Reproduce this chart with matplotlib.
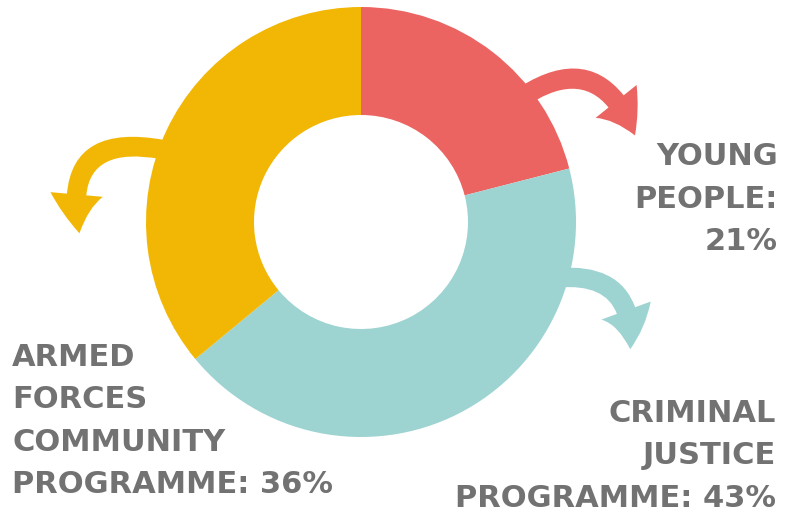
import matplotlib
matplotlib.use("Agg")
import matplotlib.pyplot as plt
from matplotlib.patches import FancyArrowPatch

# data
categories = ["YOUNG\nPEOPLE:\n21%", "CRIMINAL\nJUSTICE\nPROGRAMME: 43%", "ARMED\nFORCES\nCOMMUNITY\nPROGRAMME: 36%"]
shares = [21, 43, 36]
colors = ["#EC6461", "#9DD3D1", "#F2B705"]
text_color = "#727272"

W, H = 787, 516
fig = plt.figure(figsize=(W / 100, H / 100), dpi=100)
ax = fig.add_axes([0, 0, 1, 1])

center = (361, H - 222)
radius = 215
ax.pie(shares, colors=colors, startangle=90, counterclock=False,
       center=center, radius=radius, wedgeprops=dict(width=108, linewidth=0),
       frame=False)

# curved arrows (pixel coords, y from top)
arrows = [
    ((515, 102), (636, 138), -0.65, colors[0]),
    ((165, 150), (80, 236), 0.75, colors[2]),
    ((555, 278), (630, 352), -0.6, colors[1]),
]
for (x0, y0), (x1, y1), rad, c in arrows:
    ax.add_patch(FancyArrowPatch(
        (x0, H - y0), (x1, H - y1),
        connectionstyle=f"arc3,rad={rad}",
        arrowstyle="simple,head_width=2.7,head_length=2.0,tail_width=1.0",
        mutation_scale=14, color=c, lw=0, zorder=0))

font = dict(fontsize=22, fontweight="bold", color=text_color, family="DejaVu Sans",
            linespacing=1.58)
ax.text(778, H - 199, categories[0], ha="right", va="center", multialignment="right", **font)
ax.text(776, H - 456, categories[1], ha="right", va="center", multialignment="right", **font)
ax.text(12, H - 421, categories[2], ha="left", va="center", multialignment="left", **font)

ax.set_xlim(0, W)
ax.set_ylim(0, H)
ax.set_aspect("equal")
ax.axis("off")
fig.savefig("out.png", dpi=100)
